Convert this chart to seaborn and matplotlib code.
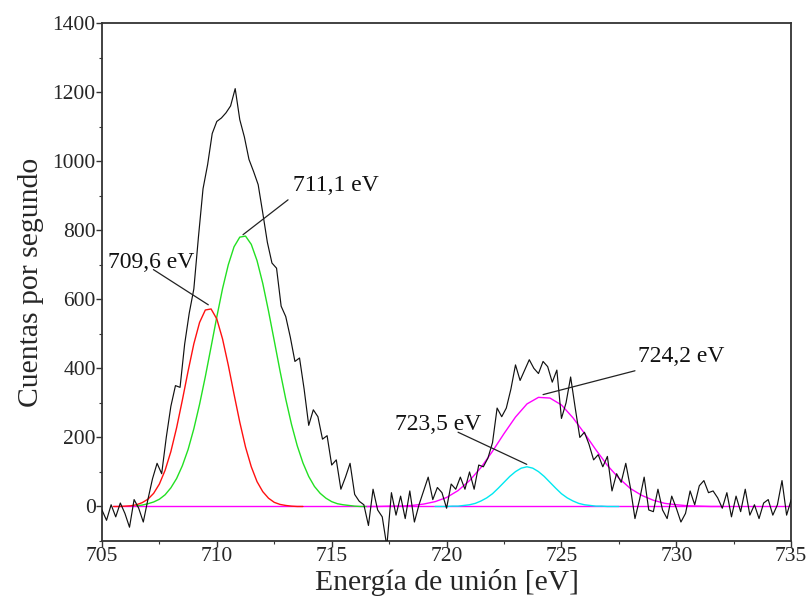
import numpy as np
import pandas as pd
import matplotlib
matplotlib.use('Agg')
import matplotlib.pyplot as plt
import seaborn as sns
from matplotlib.ticker import MultipleLocator

# Fe 2p spectrum, 705.0 .. 735.0 eV every 0.2 eV
counts = [
    -10, -40, 5, -30, 10, -20, -60, 20, -5, -45,          # 705
    20, 80, 125, 95, 200, 290, 350, 345, 470, 560,        # 707
    630, 780, 920, 990, 1080, 1115, 1125, 1140, 1160, 1210,  # 709
    1120, 1070, 1005, 970, 932, 850, 765, 705, 690, 580,  # 711
    550, 490, 420, 430, 340, 235, 280, 260, 195, 205,     # 713
    120, 135, 50, 85, 125, 35, 15, 5, -55, 50,            # 715
    -10, -30, -115, 40, -25, 30, -35, 45, -45, 5,         # 717
    45, 85, 20, 55, 40, -5, 65, 50, 85, 50,               # 719
    100, 50, 120, 115, 140, 185, 285, 260, 285, 340,      # 721
    410, 365, 395, 425, 400, 385, 420, 405, 360, 395,     # 723
    255, 300, 375, 285, 200, 215, 180, 135, 150, 115,     # 725
    145, 45, 95, 70, 125, 55, -35, 20, 85, -10,           # 727
    -15, 50, -10, -35, 30, -5, -45, -20, 45, 5,           # 729
    60, 75, 40, 45, 25, -5, 40, -30, 30, -15,             # 731
    50, -25, 5, -35, 10, 20, -25, 5, 75, -25,             # 733
    20,                                                   # 735
]
energy = np.round(705.0 + 0.2 * np.arange(len(counts)), 2)

# fitted components
red_start, red_step = 705.5, 0.25
red = [0, 0, 1, 2, 5, 11, 21, 38, 65, 105, 159, 228, 308, 392, 471, 533, 569,
       572, 543, 485, 409, 325, 244, 172, 115, 72, 43, 24, 12, 6, 3, 1, 0, 0]

green_start, green_step = 706.5, 0.25
green = [2, 4, 8, 13, 21, 34, 54, 81, 118, 165, 225, 296, 376, 462, 549, 631,
         700, 752, 780, 783, 759, 712, 646, 566, 480, 393, 311, 238, 176, 126,
         87, 58, 38, 24, 14, 8, 5, 3, 1, 0, 0]

cyan_start, cyan_step = 719.5, 0.25
cyan = [0, 0, 0, 1, 1, 3, 5, 9, 16, 25, 37, 53, 70, 87, 101, 111, 115, 111,
        101, 87, 70, 53, 37, 25, 16, 9, 5, 3, 1, 1, 0, 0, 0]

magenta_start, magenta_step = 716.5, 0.5
magenta = [0, 0, 1, 1, 3, 7, 14, 26, 46, 75, 113, 160, 211, 259, 297, 316, 314,
           294, 257, 212, 164, 119, 82, 52, 32, 18, 9, 5, 2, 1, 0, 0]

peak_labels = ['709,6 eV', '711,1 eV', '723,5 eV', '724,2 eV']


def component(vals, start, step):
    x = np.round(start + step * np.arange(len(vals)), 3)
    return pd.DataFrame({'E': x, 'I': vals})


sns.set_theme(style='ticks')
plt.rcParams['font.family'] = ['Liberation Serif', 'DejaVu Serif']

fig, ax = plt.subplots(figsize=(8.09, 6.01), dpi=100)
fig.subplots_adjust(left=0.126, right=0.978, bottom=0.0998, top=0.9617)

ax.axhline(0, xmin=0.5 / 30, xmax=1, color='#ff00ff', lw=1, zorder=1)

spec = pd.DataFrame({'E': energy, 'I': counts})
sns.lineplot(data=spec, x='E', y='I', color='#111111', lw=0.85, ax=ax, zorder=5)

for vals, start, step, col in [(magenta, magenta_start, magenta_step, '#ff00ff'),
                               (cyan, cyan_start, cyan_step, '#00e8f0'),
                               (green, green_start, green_step, '#22e022'),
                               (red, red_start, red_step, '#ff1010')]:
    sns.lineplot(data=component(vals, start, step), x='E', y='I',
                 color=col, lw=1, ax=ax, zorder=3)

# labels with leader lines
label_pos = [(705.26, 706), (713.32, 929), (717.76, 237), (728.33, 434)]
line_from = [(707.24, 686), (713.10, 888), (720.5, 215), (728.2, 393)]
line_to = [(709.63, 584), (711.14, 787), (723.49, 122), (724.2, 324)]
for txt, tp, a, b in zip(peak_labels, label_pos, line_from, line_to):
    ax.annotate('', xy=b, xytext=a,
                arrowprops=dict(arrowstyle='-', color='#222222', lw=0.9,
                                shrinkA=0, shrinkB=0), zorder=6)
    ax.text(tp[0], tp[1], txt, ha='left', va='center', fontsize=17,
            color='#111111', zorder=7)

ax.set_xlim(705, 735)
ax.set_ylim(-100, 1400)
ax.xaxis.set_major_locator(MultipleLocator(5))
ax.xaxis.set_minor_locator(MultipleLocator(2.5))
ax.yaxis.set_major_locator(MultipleLocator(200))
ax.yaxis.set_minor_locator(MultipleLocator(100))
ax.tick_params(which='major', direction='out', length=4, width=1,
               color='#333333', labelsize=15.5, pad=0.5)
ax.tick_params(which='minor', direction='out', length=2.5, width=0.8,
               color='#333333')
ax.tick_params(top=False, right=False, which='both')
for s in ax.spines.values():
    s.set_color('#333333')
    s.set_linewidth(1.3)

ax.set_xlabel('Energía de unión [eV]', fontsize=21.3, labelpad=2)
ax.set_ylabel('Cuentas por segundo', fontsize=21.3, labelpad=6)

fig.savefig('out.png', dpi=100)
